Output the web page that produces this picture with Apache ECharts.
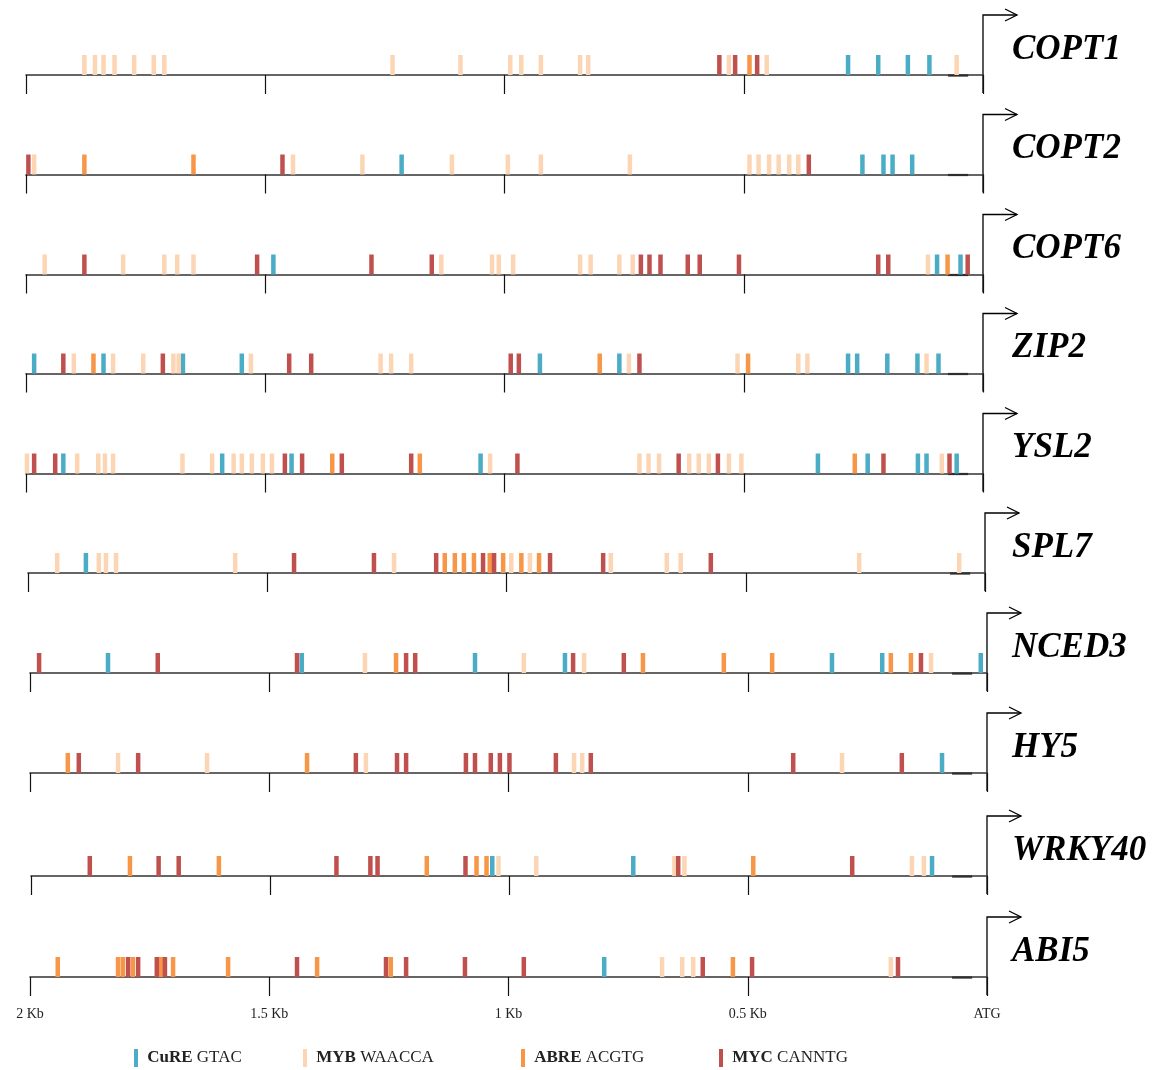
<!DOCTYPE html>
<html>
<head>
<meta charset="utf-8">
<script src="https://cdn.jsdelivr.net/npm/echarts@6/dist/echarts.min.js"></script>
<style>
html,body{margin:0;padding:0;background:#fff}
#chart{width:1156px;height:1070px}
</style>
</head>
<body>
<div id="chart"></div>
<script>
// Promoter regions (2 kb upstream of ATG) and the cis-elements found in them
const genes = ['COPT1', 'COPT2', 'COPT6', 'ZIP2', 'YSL2', 'SPL7', 'NCED3', 'HY5', 'WRKY40', 'ABI5'];
const motifNames = ['CuRE', 'MYB', 'ABRE', 'MYC'];
const motifSeqs = ['GTAC', 'WAACCA', 'ACGTG', 'CANNTG'];
const tickLabels = ['ATG', '0.5 Kb', '1 Kb', '1.5 Kb', '2 Kb'];

// Site positions, bp upstream of ATG, one list per gene
const cureSites = [
  [282, 219, 157, 112],
  [1215, 252, 208, 189, 148],
  [1483, 96, 47],
  [1983, 1838, 1672, 1549, 926, 760, 282, 263, 200, 137, 93],
  [1922, 1590, 1445, 1050, 345, 241, 136, 118, 55],
  [1879],
  [1837, 1432, 1070, 882, 324, 219, 13],
  [94],
  [1035, 740, 115],
  [800]
];
const mybSites = [
  [1878, 1856, 1838, 1815, 1774, 1733, 1711, 1234, 1092, 988, 965, 924, 842, 825, 531, 452, 55],
  [1983, 1442, 1297, 1110, 993, 924, 738, 488, 469, 447, 427, 405, 386],
  [1961, 1797, 1711, 1684, 1650, 1132, 1026, 1012, 982, 842, 820, 760, 732, 115],
  [1900, 1818, 1755, 1692, 1681, 1530, 1259, 1237, 1195, 740, 513, 386, 367, 118],
  [1998, 1893, 1849, 1835, 1818, 1673, 1611, 1566, 1549, 1528, 1505, 1486, 1030, 718, 699, 677, 614, 594, 573, 531, 505, 86],
  [1939, 1852, 1837, 1816, 1567, 1235, 990, 951, 782, 665, 636, 263, 54],
  [1300, 968, 842, 117],
  [1816, 1630, 1298, 863, 846, 303],
  [1022, 943, 654, 633, 157, 132],
  [679, 637, 614, 201]
];
const abreSites = [
  [488],
  [1878, 1650],
  [74],
  [1859, 801, 491],
  [1360, 1177, 268],
  [1129, 1108, 1089, 1068, 1035, 1007, 969, 932],
  [1235, 719, 550, 449, 201, 159],
  [1921, 1421],
  [1793, 1607, 1172, 1068, 1047, 489],
  [1942, 1816, 1806, 1785, 1726, 1701, 1586, 1400, 1246, 531]
];
const mycSites = [
  [551, 518, 472],
  [1995, 1464, 364],
  [1878, 1517, 1278, 1152, 715, 697, 674, 617, 592, 510, 219, 198, 32],
  [1922, 1714, 1450, 1404, 987, 970, 718],
  [1983, 1939, 1459, 1423, 1340, 1195, 973, 636, 554, 208, 70],
  [1444, 1277, 1147, 1049, 1026, 909, 798, 573],
  [1981, 1733, 1442, 1214, 1195, 865, 759, 138],
  [1898, 1774, 1319, 1233, 1214, 1089, 1070, 1037, 1018, 998, 901, 828, 405, 178],
  [1877, 1733, 1691, 1361, 1290, 1275, 1091, 646, 282],
  [1795, 1774, 1735, 1718, 1442, 1256, 1214, 1091, 968, 594, 491, 186]
];

const siteLists = [cureSites, mybSites, abreSites, mycSites];
const colors = ['#4BACC6', '#FCD5B4', '#F79646', '#C0504D'];

// Track layout (pixels)
const rowBase = [75, 174.5, 274.5, 373.5, 473.5, 573, 673, 773, 876, 977];
const rowLeft = [26, 26, 26, 26, 26, 28, 30, 30, 31, 30];
const rowAtg = [983, 983, 983, 983, 983, 985, 987, 987, 987, 987];
const markH = 20;
const legendLeft = [129, 298, 516, 714];
const nameLeft = 1012;
const serif = '"Liberation Serif", "Times New Roman", serif';

const chart = echarts.init(document.getElementById('chart'), null, { renderer: 'canvas' });

const grids = [], xAxes = [], yAxes = [], series = [];
genes.forEach((g, i) => {
  grids.push({ left: rowLeft[i], width: rowAtg[i] - rowLeft[i], top: rowBase[i] - markH, height: markH });
  xAxes.push({
    type: 'value', gridIndex: i, min: 0, max: 2000, interval: 500, inverse: true,
    axisLine: { show: true, lineStyle: { color: '#333', width: 1.6 } },
    axisTick: { show: true, inside: false, length: 19, lineStyle: { color: '#111', width: 1.2 } },
    axisLabel: {
      show: i === genes.length - 1, margin: 30,
      fontFamily: serif, fontSize: 14, color: '#222',
      formatter: v => tickLabels[Math.round(v / 500)]
    },
    splitLine: { show: false }
  });
  yAxes.push({ type: 'value', gridIndex: i, min: 0, max: 1, show: false });
  siteLists.forEach((list, m) => {
    series.push({
      type: 'scatter', name: motifNames[m], xAxisIndex: i, yAxisIndex: i,
      symbol: 'rect', symbolSize: [4.5, markH],
      itemStyle: { color: colors[m], opacity: 1 },
      data: list[i].map(p => [p, 0.5]),
      silent: true, animation: false
    });
  });
});

const legends = motifNames.map((name, m) => ({
  data: [name], left: legendLeft[m], top: 1044,
  icon: 'rect', itemWidth: 4, itemHeight: 18,
  selectedMode: false,
  formatter: n => ' {b|' + n + '} ' + motifSeqs[m],
  textStyle: {
    fontFamily: serif, fontSize: 17, color: '#222',
    rich: { b: { fontFamily: serif, fontSize: 17, fontWeight: 'bold', color: '#222' } }
  }
}));

chart.setOption({
  backgroundColor: '#fff',
  animation: false,
  grid: grids, xAxis: xAxes, yAxis: yAxes,
  legend: legends,
  series: series
});

// Transcription start arrows, gene names and the short segment before ATG
const graphics = [];
genes.forEach((g, i) => {
  const p0 = chart.convertToPixel({ gridIndex: i }, [0, 0]);
  const pa = chart.convertToPixel({ gridIndex: i }, [73, 0]);
  const pb = chart.convertToPixel({ gridIndex: i }, [31, 0]);
  const x = p0[0], y = p0[1];
  graphics.push({
    type: 'polyline', silent: true,
    shape: { points: [[x, y + 18], [x, y - 60], [x + 34, y - 60]] },
    style: { stroke: '#000', lineWidth: 1.3, fill: null }
  });
  graphics.push({
    type: 'polyline', silent: true,
    shape: { points: [[x + 22, y - 66], [x + 34, y - 60], [x + 22, y - 54]] },
    style: { stroke: '#000', lineWidth: 1.3, fill: null }
  });
  graphics.push({
    type: 'line', silent: true,
    shape: { x1: pa[0], y1: y + 0.5, x2: pb[0], y2: y + 0.5 },
    style: { stroke: '#222', lineWidth: 2.2 }
  });
  graphics.push({
    type: 'text', silent: true, left: nameLeft, top: y - 43,
    style: {
      text: g, fill: '#000',
      font: 'italic bold 35px ' + serif
    }
  });
});
chart.setOption({ graphic: graphics });
</script>
</body>
</html>
